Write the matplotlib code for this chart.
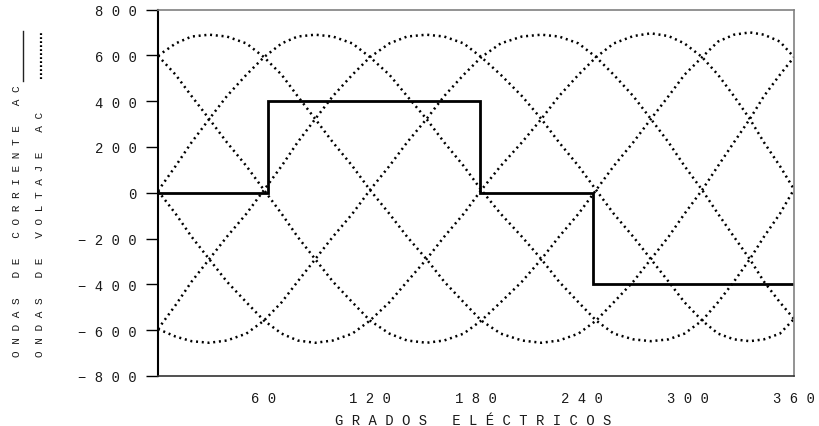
import matplotlib.pyplot as plt
from matplotlib.lines import Line2D

# sample positions (electrical degrees)
grados = [0, 10, 19, 29, 39, 50, 60, 70, 79, 89, 99, 110, 120, 131, 141, 152, 162, 173, 183,
          194, 206, 217, 227, 238, 248, 258, 269, 279, 289, 298, 308, 317, 326, 335, 343, 352, 360]

# line voltages (one list per dotted curve)
v_30 = [598, 652, 682, 690, 682, 652, 592, 515, 422, 322, 220, 117, 12, -92, -192, -290, -388, -478, -558,
        -615, -645, -655, -645, -615, -558, -478, -388, -290, -192, -92, 12, 117, 220, 322, 422, 515, 592]
v_90 = [8, 117, 220, 322, 422, 515, 592, 652, 682, 690, 682, 652, 592, 515, 422, 322, 220, 117, 12,
        -92, -192, -290, -388, -478, -558, -615, -640, -648, -640, -615, -558, -478, -388, -290, -192, -92, 15]
v_150 = [-595, -490, -388, -290, -192, -92, 12, 117, 220, 322, 422, 515, 592, 652, 682, 690, 682, 652, 592,
         515, 422, 322, 220, 117, 12, -92, -192, -290, -388, -478, -558, -615, -640, -648, -640, -615, -551]
v_210 = [-595, -628, -648, -655, -645, -615, -558, -478, -388, -290, -192, -92, 12, 117, 220, 322, 422, 515, 592,
         652, 682, 690, 682, 652, 592, 515, 422, 322, 220, 117, 12, -92, -192, -290, -388, -478, -551]
v_270 = [8, -92, -192, -290, -388, -478, -558, -615, -645, -655, -645, -615, -558, -478, -388, -290, -192, -92, 12,
         117, 220, 322, 422, 515, 592, 652, 684, 696, 684, 652, 592, 515, 422, 322, 220, 117, 15]
v_330 = [598, 515, 422, 322, 220, 117, 12, -92, -192, -290, -388, -478, -558, -615, -645, -655, -645, -615, -558,
         -478, -388, -290, -192, -92, 12, 117, 220, 322, 422, 515, 592, 660, 690, 700, 690, 660, 592]

# current square wave
cambios = [0, 62, 182, 246, 360]
corriente = [0, 400, 0, -400]

xticks = [60, 120, 180, 240, 300, 360]
yticks = [-800, -600, -400, -200, 0, 200, 400, 600, 800]


def spaced(s):
    return " ".join(s)


W, H = 819, 427
mono = "Liberation Mono"
ink = "#1a1a1a"

fig = plt.figure(figsize=(W / 100, H / 100), dpi=100)
ax = fig.add_axes([158 / W, 50 / H, 636 / W, 366.5 / H])

for v in [v_30, v_90, v_150, v_210, v_270, v_330]:
    ax.plot(grados, v, color="black", lw=1.8, linestyle=(0, (0.8, 1.5)))

ax.stairs(corriente, cambios, baseline=None, color="black", lw=2.0)

ax.set_xlim(0, 360)
ax.set_ylim(-800, 800)
ax.set_xticks(xticks)
ax.set_xticklabels([spaced(str(t)) for t in xticks], fontfamily=mono, fontsize=10, color=ink)
ax.set_yticks(yticks)
ax.set_yticklabels([spaced(str(t).replace("-", "\u2212")) for t in yticks],
                   fontfamily=mono, fontsize=10, color=ink)
ax.tick_params(axis="x", length=0, pad=11)
ax.tick_params(axis="y", direction="out", length=8.5, width=1, pad=7)

ax.spines["left"].set_linewidth(1.5)
ax.spines["left"].set_color("black")
ax.spines["bottom"].set_linewidth(1.2)
ax.spines["bottom"].set_color("#333333")
for s in ["top", "right"]:
    ax.spines[s].set_linewidth(1.2)
    ax.spines[s].set_color("#808080")

fig.text(473 / W, (H - 425) / H, "G R A D O S   E L \u00c9 C T R I C O S",
         fontfamily=mono, fontsize=10, color=ink, ha="center", va="baseline")

fig.text(17 / W, (H - 357) / H, "O N D A S   D E   C O R R I E N T E   A C",
         fontfamily=mono, fontsize=8, color=ink, rotation=90, ha="center", va="bottom")
fig.text(40 / W, (H - 357) / H, "O N D A S   D E   V O L T A J E   A C",
         fontfamily=mono, fontsize=8, color=ink, rotation=90, ha="center", va="bottom")

fig.add_artist(Line2D([22.7 / W, 22.7 / W], [(H - 82) / H, (H - 32) / H],
                      transform=fig.transFigure, color="#222222", lw=1.0))
fig.add_artist(Line2D([40.7 / W, 40.7 / W], [(H - 80) / H, (H - 33) / H],
                      transform=fig.transFigure, color="black", lw=1.6, linestyle=(0, (0.8, 1.0))))

fig.savefig("out.png", dpi=100)
